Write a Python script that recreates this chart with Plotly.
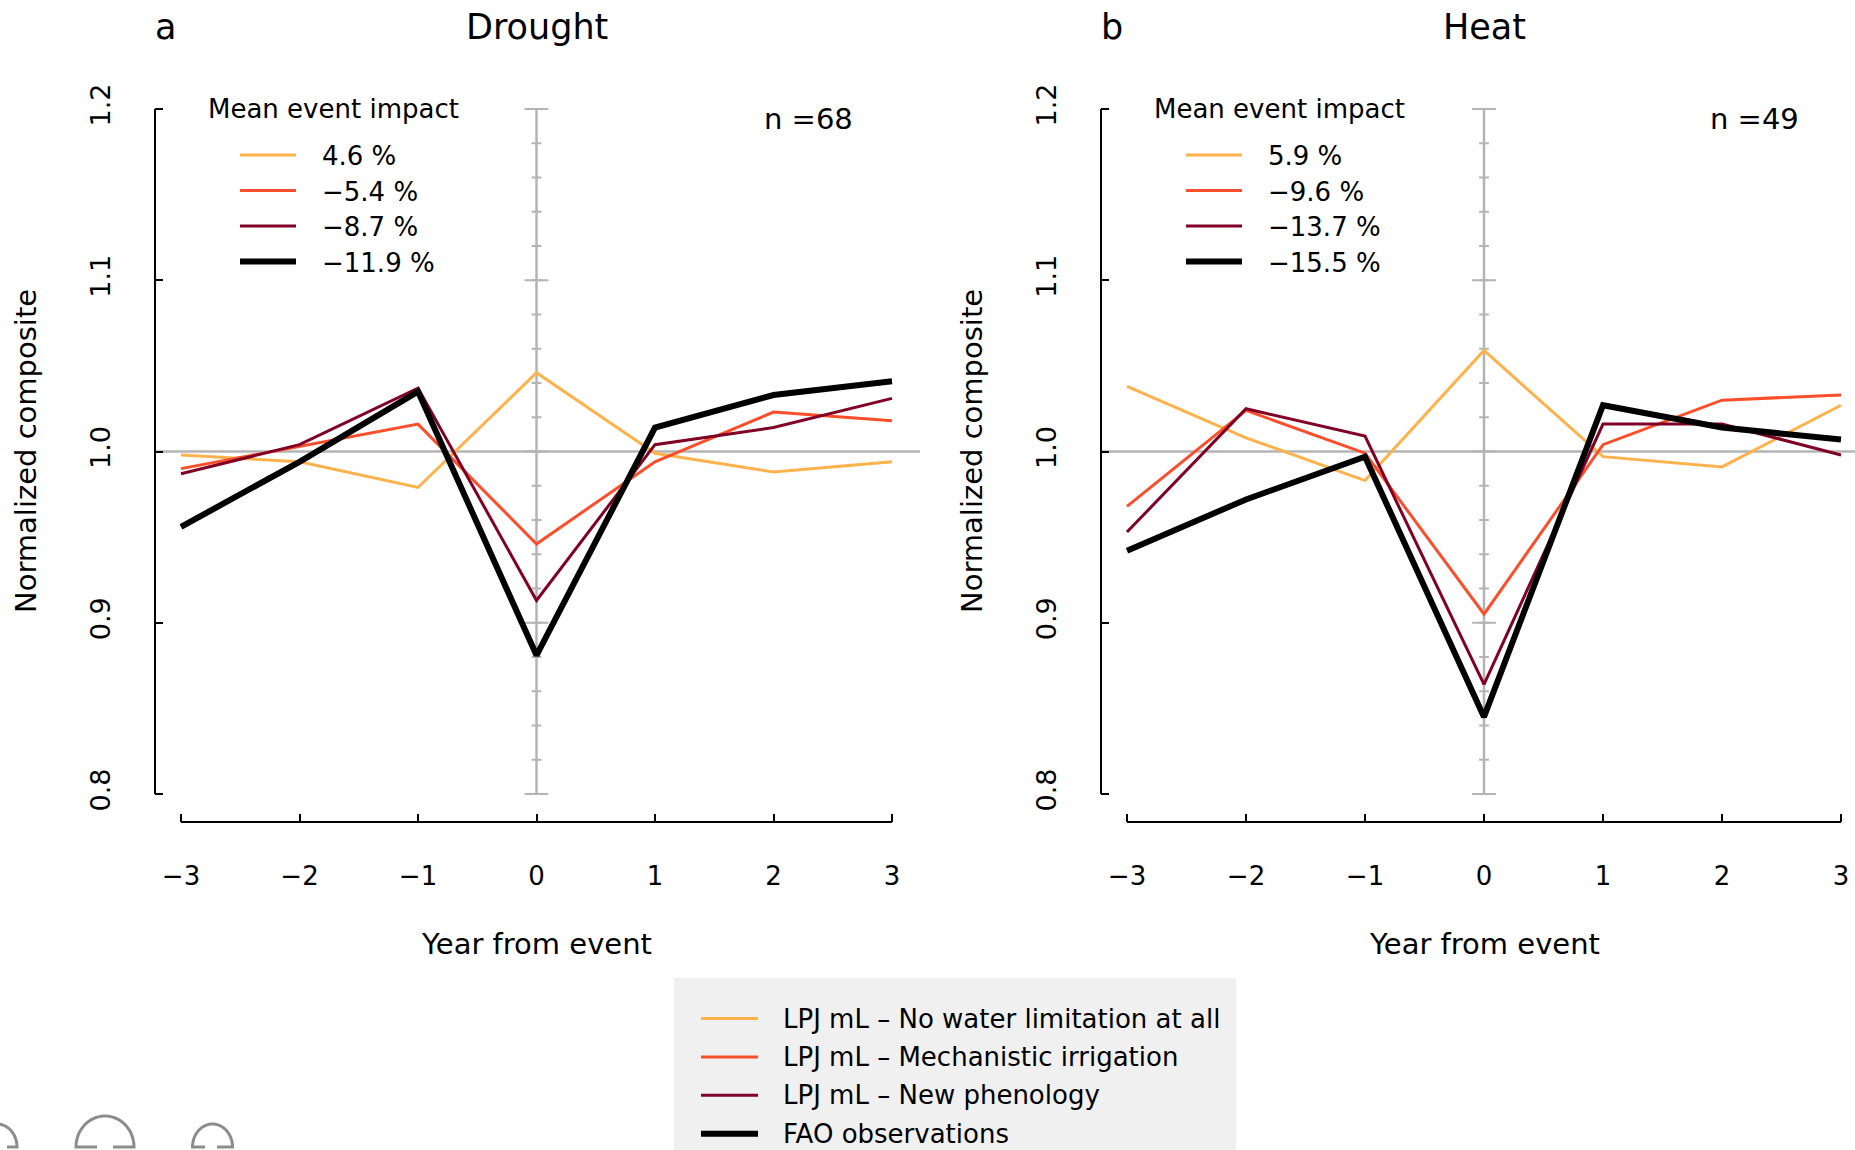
import math
import plotly.graph_objects as go

W, H = 1855, 1150
FONT = "DejaVu Sans"

# ---------------- data ----------------
years = [-3, -2, -1, 0, 1, 2, 3]

series_names = [
    "LPJ mL \u2013 No water limitation at all",
    "LPJ mL \u2013 Mechanistic irrigation",
    "LPJ mL \u2013 New phenology",
    "FAO observations",
]
series_colors = ["#FEB24C", "#FC4E2A", "#800026", "#000000"]
series_widths = [3, 3, 3, 6]

drought_nowater = [0.998, 0.994, 0.979, 1.046, 0.999, 0.988, 0.994]
drought_irrig = [0.990, 1.003, 1.016, 0.946, 0.994, 1.023, 1.018]
drought_pheno = [0.987, 1.004, 1.037, 0.913, 1.004, 1.014, 1.031]
drought_fao = [0.956, 0.994, 1.035, 0.881, 1.014, 1.033, 1.041]

heat_nowater = [1.038, 1.008, 0.983, 1.059, 0.997, 0.991, 1.027]
heat_irrig = [0.968, 1.024, 0.999, 0.905, 1.004, 1.030, 1.033]
heat_pheno = [0.953, 1.025, 1.009, 0.864, 1.016, 1.016, 0.998]
heat_fao = [0.942, 0.972, 0.997, 0.845, 1.027, 1.014, 1.007]

drought_impacts = [4.6, -5.4, -8.7, -11.9]
heat_impacts = [5.9, -9.6, -13.7, -15.5]

panel_letters = ["a", "b"]
panel_titles = ["Drought", "Heat"]
panel_n = [68, 49]
y_ticks = [0.8, 0.9, 1.0, 1.1, 1.2]
x_ticks = years
x_title = "Year from event"
y_title = "Normalized composite"
legend_heading = "Mean event impact"

# ---------------- geometry (pixels) ----------------
def px(x):
    return x / W

def py(y):
    return 1 - y / H

# panel pixel geometry: left edge, right edge, x(-3) px, x(3) px
panels = [
    dict(left=155.0, right=920.0, xm3=181.0, xp3=892.0),
    dict(left=1101.0, right=1855.0, xm3=1127.0, xp3=1841.0),
]
Y_TOP_PX, Y_BOT_PX = 81.6, 822.0
Y12_PX, Y08_PX = 109.0, 794.0
ypu = (Y08_PX - Y12_PX) / 0.4
y_lo = 0.8 - (Y_BOT_PX - Y08_PX) / ypu
y_hi = 1.2 + (Y12_PX - Y_TOP_PX) / ypu

fig = go.Figure()
panel_series = [
    [drought_nowater, drought_irrig, drought_pheno, drought_fao],
    [heat_nowater, heat_irrig, heat_pheno, heat_fao],
]
panel_impacts = [drought_impacts, heat_impacts]

GRAY = "#b4b4b4"
shapes = []
annotations = []

minor_ticks = [round(0.8 + 0.02 * i, 2) for i in range(21)]
major_ticks = y_ticks

def minus(s):
    return s.replace("-", "\u2212")

for i, p in enumerate(panels):
    xa = "x" if i == 0 else "x2"
    ya = "y" if i == 0 else "y2"
    xpu = (p["xp3"] - p["xm3"]) / 6.0
    x_lo = -3 - (p["xm3"] - p["left"]) / xpu
    x_hi = 3 + (p["right"] - p["xp3"]) / xpu
    ax_key = "xaxis" if i == 0 else "xaxis2"
    ay_key = "yaxis" if i == 0 else "yaxis2"
    fig.update_layout(**{
        ax_key: dict(
            domain=[px(p["left"]), px(p["right"])], range=[x_lo, x_hi],
            anchor=ya, tickvals=x_ticks, ticktext=[minus(str(v)) for v in x_ticks],
            ticks="inside", ticklen=8, tickwidth=2, tickcolor="black",
            showgrid=False, zeroline=False, showline=False,
            tickfont=dict(family=FONT, size=26, color="black"),
            ticklabelstandoff=36,
        ),
        ay_key: dict(
            domain=[py(Y_BOT_PX), py(Y_TOP_PX)], range=[y_lo, y_hi],
            anchor=xa, tickvals=y_ticks, ticktext=["%.1f" % v for v in y_ticks],
            ticks="inside", ticklen=8, tickwidth=2, tickcolor="black",
            showgrid=False, zeroline=False, showline=False, tickangle=-90,
            tickfont=dict(family=FONT, size=27, color="black"),
            ticklabelstandoff=39,
        ),
    })

    # reference lines
    shapes.append(dict(type="line", xref=xa + " domain", yref=ya, x0=0, x1=1,
                       y0=1.0, y1=1.0, line=dict(color=GRAY, width=2.5), layer="below"))
    shapes.append(dict(type="line", xref=xa, yref=ya, x0=0, x1=0, y0=0.8, y1=1.2,
                       line=dict(color=GRAY, width=2.5), layer="below"))
    # gray tick marks on the zero line
    fig.add_trace(go.Scatter(x=[0] * len(minor_ticks), y=minor_ticks, xaxis=xa, yaxis=ya,
                             mode="markers", hoverinfo="skip", showlegend=False,
                             marker=dict(symbol="line-ew", size=7,
                                         line=dict(color=GRAY, width=2))))
    fig.add_trace(go.Scatter(x=[0] * len(major_ticks), y=major_ticks, xaxis=xa, yaxis=ya,
                             mode="markers", hoverinfo="skip", showlegend=False,
                             marker=dict(symbol="line-ew", size=17,
                                         line=dict(color=GRAY, width=2))))

    # axis lines (R style, detached lengths)
    shapes.append(dict(type="line", xref="paper", yref=ya, x0=px(p["left"]), x1=px(p["left"]),
                       y0=0.8, y1=1.2, line=dict(color="black", width=2)))
    shapes.append(dict(type="line", xref=xa, yref="paper", x0=-3, x1=3,
                       y0=py(Y_BOT_PX), y1=py(Y_BOT_PX), line=dict(color="black", width=2)))

    # data lines
    for vals, name, col, lw in zip(panel_series[i], series_names, series_colors, series_widths):
        fig.add_trace(go.Scatter(x=years, y=vals, xaxis=xa, yaxis=ya, mode="lines",
                                 name=name, showlegend=False,
                                 line=dict(color=col, width=lw)))

    L = p["left"]
    # letter & title
    annotations.append(dict(text=panel_letters[i], xref="paper", yref="paper",
                            x=px(L - 2), y=py(27), xanchor="left", yanchor="middle",
                            showarrow=False, font=dict(family=FONT, size=35, color="black")))
    annotations.append(dict(text=panel_titles[i], xref=xa, yref="paper",
                            x=0, y=py(27), xanchor="center", yanchor="middle",
                            showarrow=False, font=dict(family=FONT, size=35, color="black")))
    # n
    annotations.append(dict(text="n =%d" % panel_n[i], xref="paper", yref="paper",
                            x=px(L + 700), y=py(119), xanchor="right", yanchor="middle",
                            showarrow=False, font=dict(family=FONT, size=29, color="black")))
    # axis titles
    annotations.append(dict(text=x_title, xref=xa, yref="paper", x=0, y=py(944),
                            xanchor="center", yanchor="middle", showarrow=False,
                            font=dict(family=FONT, size=29, color="black")))
    annotations.append(dict(text=y_title, xref="paper", yref="paper", x=px(L - 129), y=py(451),
                            xanchor="center", yanchor="middle", showarrow=False, textangle=-90,
                            font=dict(family=FONT, size=29, color="black")))
    # in-panel legend of mean event impact
    annotations.append(dict(text=legend_heading, xref="paper", yref="paper",
                            x=px(L + 51), y=py(109), xanchor="left", yanchor="middle",
                            showarrow=False, font=dict(family=FONT, size=26, color="black")))
    for k, (imp, col, lw) in enumerate(zip(panel_impacts[i], series_colors, series_widths)):
        yy = 155 + 35.5 * k
        shapes.append(dict(type="line", xref="paper", yref="paper",
                           x0=px(L + 85), x1=px(L + 141), y0=py(yy), y1=py(yy),
                           line=dict(color=col, width=lw)))
        txt = minus("%.1f %%" % imp)
        annotations.append(dict(text=txt, xref="paper", yref="paper",
                                x=px(L + 165), y=py(yy + 1), xanchor="left", yanchor="middle",
                                showarrow=False, font=dict(family=FONT, size=26, color="black")))

# ---------------- bottom legend box ----------------
shapes.append(dict(type="rect", xref="paper", yref="paper", x0=px(674), x1=px(1236),
                   y0=py(1150), y1=py(978), fillcolor="#f0f0f0", line=dict(width=0),
                   layer="below"))
for k, (name, col, lw) in enumerate(zip(series_names, series_colors, series_widths)):
    yy = 1018.5 + 38.4 * k
    shapes.append(dict(type="line", xref="paper", yref="paper", x0=px(701), x1=px(758),
                       y0=py(yy), y1=py(yy), line=dict(color=col, width=lw)))
    annotations.append(dict(text=name, xref="paper", yref="paper", x=px(781), y=py(yy),
                            xanchor="left", yanchor="middle", showarrow=False,
                            font=dict(family=FONT, size=26, color="black")))

# ---------------- gray dome glyphs at the bottom-left ----------------
def dome(cx, rx, ry, base, gap_l, gap_r):
    pts = [(gap_l, base), (cx - rx, base)]
    for j in range(1, 40):
        a = math.pi - math.pi * j / 40
        pts.append((cx + rx * math.cos(a), base - ry * math.sin(a)))
    pts.append((cx + rx, base))
    pts.append((gap_r, base))
    path = "M" + " L".join("%.5f,%.5f" % (px(x), py(y)) for x, y in pts)
    return dict(type="path", xref="paper", yref="paper", path=path,
                line=dict(color="#8c8c8c", width=3))

shapes.append(dome(-3, 20, 23, 1147, -10, 7))
shapes.append(dome(105, 29, 31, 1147, 97, 113))
shapes.append(dome(212.5, 20, 23, 1147, 205, 217))

fig.update_layout(
    width=W, height=H, margin=dict(l=0, r=0, t=0, b=0),
    paper_bgcolor="white", plot_bgcolor="white", showlegend=False,
    shapes=shapes, annotations=annotations,
    font=dict(family=FONT, color="black"),
)

fig.write_html("out.html")
